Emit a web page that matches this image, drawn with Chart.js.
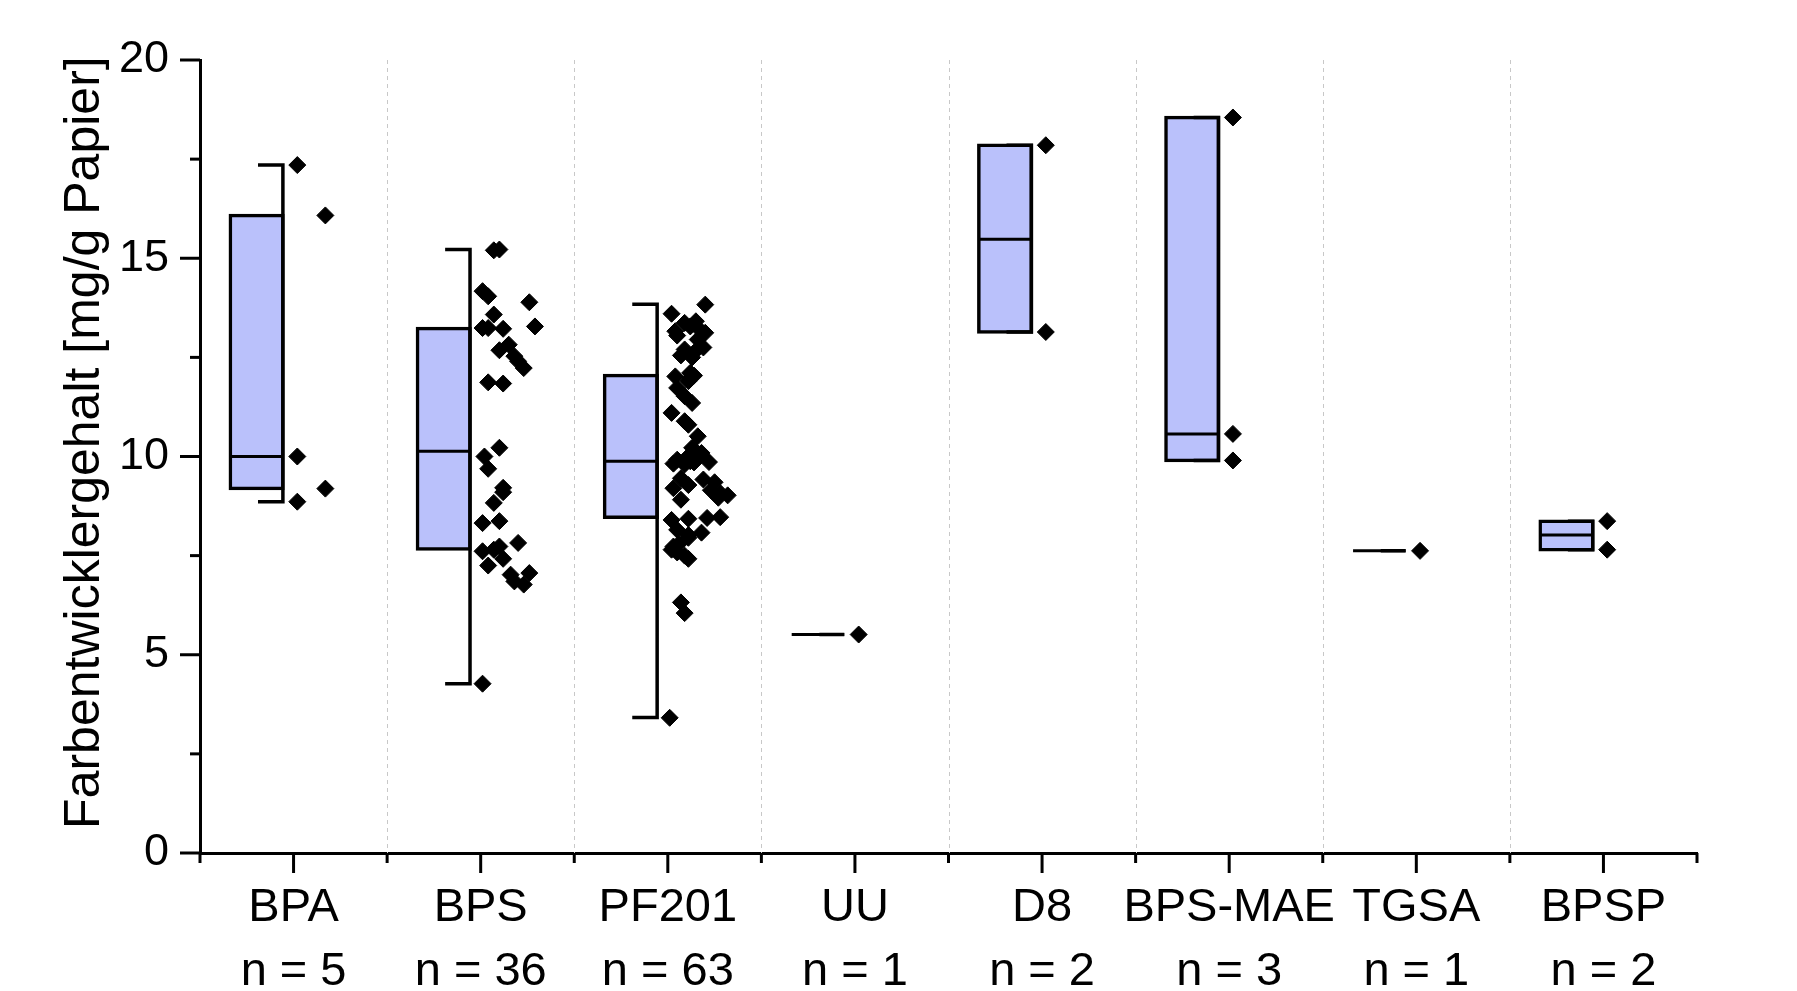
<!DOCTYPE html>
<html><head><meta charset="utf-8">
<script src="https://cdn.jsdelivr.net/npm/chart.js@4.4.1/dist/chart.umd.min.js"></script>
<style>html,body{margin:0;padding:0;background:#fff;} #wrap{width:1797px;height:991px;}</style>
</head><body><div id="wrap"><canvas id="c" width="1797" height="991"></canvas></div>
<script>
// ---------- data ----------
const categories = ['BPA','BPS','PF201','UU','D8','BPS-MAE','TGSA','BPSP'];
const boxQ1       = [9.19, 7.67, 8.47, 5.51, 13.14,  9.90, 7.62, 7.65];
const boxMedian   = [10.00,10.13,9.88, 5.51, 15.48, 10.57, 7.62, 8.02];
const boxQ3       = [16.08,13.23,12.04,5.51, 17.85, 18.55, 7.62, 8.37];
const whiskerLow  = [8.86, 4.27, 3.42, 5.51, 13.14,  9.90, 7.62, 7.65];
const whiskerHigh = [17.35,15.22,13.84,5.51, 17.85, 18.55, 7.62, 8.37];

const pointsBPA = [17.35, 16.08, 10.00, 9.19, 8.86];
const jitterBPA = [0.02, 0.17, 0.02, 0.17, 0.02];
const pointsBPS = [15.20,15.22,14.17,14.04,13.89,13.58,13.24,13.24,13.22,13.28,12.82,12.68,12.53,12.40,12.23,11.87,11.84,10.22,10.00,9.69,9.21,9.10,8.83,8.37,8.32,7.82,7.73,7.65,7.61,7.42,7.25,7.06,7.02,6.85,6.77,4.27];
const jitterBPS = [0.07,0.10,0.01,0.04,0.26,0.07,0.01,0.04,0.12,0.29,0.15,0.10,0.18,0.20,0.23,0.04,0.12,0.10,0.02,0.04,0.12,0.12,0.07,0.10,0.01,0.20,0.10,0.07,0.01,0.12,0.04,0.26,0.16,0.18,0.23,0.01];
const pointsPF201 = [13.83,13.60,13.41,13.37,13.28,13.20,13.16,13.12,13.05,12.95,12.75,12.70,12.62,12.55,12.50,12.11,12.04,12.02,11.98,11.90,11.73,11.52,11.35,11.10,10.89,10.80,10.51,10.22,10.09,9.96,9.92,9.88,9.86,9.85,9.82,9.80,9.45,9.42,9.35,9.28,9.20,9.15,9.08,9.02,8.96,8.91,8.47,8.45,8.43,8.40,8.15,8.08,8.02,7.95,7.80,7.73,7.65,7.58,7.50,7.42,6.32,6.05,3.41];
const jitterPF201 = [0.20,0.02,0.15,0.09,0.12,0.17,0.04,0.20,0.05,0.16,0.19,0.09,0.14,0.07,0.13,0.12,0.14,0.04,0.12,0.11,0.05,0.09,0.13,0.02,0.09,0.11,0.16,0.13,0.18,0.10,0.05,0.12,0.22,0.14,0.03,0.09,0.07,0.19,0.25,0.11,0.03,0.23,0.28,0.32,0.27,0.07,0.28,0.21,0.11,0.02,0.05,0.18,0.11,0.11,0.06,0.03,0.02,0.05,0.09,0.11,0.07,0.09,0.01];
const pointsUU = [5.51];            const jitterUU = [0.02];
const pointsD8 = [17.85, 13.14];    const jitterD8 = [0.02, 0.02];
const pointsBPSMAE = [18.55, 10.57, 9.90]; const jitterBPSMAE = [0.02, 0.02, 0.02];
const pointsTGSA = [7.62];          const jitterTGSA = [0.02];
const pointsBPSP = [8.37, 7.65];    const jitterBPSP = [0.02, 0.02];

const yMajorTicks = [0, 5, 10, 15, 20];
const yMinorTicks = [2.5, 7.5, 12.5, 17.5];

const groupPoints = [pointsBPA, pointsBPS, pointsPF201, pointsUU, pointsD8, pointsBPSMAE, pointsTGSA, pointsBPSP];
const groupJitter = [jitterBPA, jitterBPS, jitterPF201, jitterUU, jitterD8, jitterBPSMAE, jitterTGSA, jitterBPSP];

// ---------- geometry (in category-width units) ----------
const BOX_LEFT = -0.338, BOX_RIGHT = -0.057, WHISKER_X = -0.057, CAP_LEFT = -0.19;
const BOX_CENTER = (BOX_LEFT + BOX_RIGHT) / 2, BOX_FRACTION = BOX_RIGHT - BOX_LEFT;
const LW = 3.5;
const FONT = "'Liberation Sans', Arial, sans-serif";

const xLabels = categories.map((c, i) => [c, 'n = ' + groupPoints[i].length]);
const boxData = categories.map((c, i) => ({x: i + BOX_CENTER, y: [boxQ1[i], boxQ3[i]]}));
const medianData = [];
const whiskerData = [];
categories.forEach((c, i) => {
  medianData.push({x: i + BOX_LEFT, y: boxMedian[i]}, {x: i + BOX_RIGHT, y: boxMedian[i]}, {x: i + BOX_RIGHT, y: null});
  whiskerData.push({x: i + CAP_LEFT, y: whiskerHigh[i]}, {x: i + WHISKER_X, y: whiskerHigh[i]},
                   {x: i + WHISKER_X, y: whiskerLow[i]}, {x: i + CAP_LEFT, y: whiskerLow[i]}, {x: i + CAP_LEFT, y: null});
});
const pointData = [];
groupPoints.forEach((pts, i) => pts.forEach((v, k) => pointData.push({x: i + groupJitter[i][k], y: v})));

const axisDecor = {
  id: 'axisDecor',
  beforeDatasetsDraw(chart) {
    const {ctx, chartArea} = chart; const xj = chart.scales.xj;
    ctx.save();
    ctx.strokeStyle = '#c8c8c8'; ctx.lineWidth = 1; ctx.setLineDash([4, 4]);
    for (let i = 0; i < categories.length - 1; i++) {
      const px = Math.round(xj.getPixelForValue(i + 0.5)) + 0.5;
      ctx.beginPath(); ctx.moveTo(px, chartArea.top); ctx.lineTo(px, chartArea.bottom); ctx.stroke();
    }
    ctx.restore();
  },
  afterDraw(chart) {
    const {ctx, chartArea} = chart; const xj = chart.scales.xj; const y = chart.scales.y;
    ctx.save();
    ctx.strokeStyle = '#000'; ctx.lineWidth = 3; ctx.setLineDash([]);
    const line = (x1, y1, x2, y2) => { ctx.beginPath(); ctx.moveTo(x1, y1); ctx.lineTo(x2, y2); ctx.stroke(); };
    const ax = chartArea.left, ay = chartArea.bottom;
    yMajorTicks.forEach(v => { const p = y.getPixelForValue(v); line(ax, p, ax - 20, p); });
    yMinorTicks.forEach(v => { const p = y.getPixelForValue(v); line(ax, p, ax - 10, p); });
    categories.forEach((c, i) => { const p = xj.getPixelForValue(i); line(p, ay, p, ay + 20); });
    for (let i = 0; i <= categories.length; i++) { const p = xj.getPixelForValue(i - 0.5); line(p, ay, p, ay + 10); }
    ctx.restore();
  }
};

Chart.defaults.font.family = FONT;
Chart.defaults.color = '#000';

new Chart(document.getElementById('c'), {
  type: 'bar',
  data: {
    labels: xLabels,
    datasets: [
      {type: 'scatter', label: 'points', xAxisID: 'xj', yAxisID: 'y', data: pointData,
       pointStyle: 'rectRot', pointRadius: 8.5, pointHoverRadius: 8.5, backgroundColor: '#000', borderColor: '#000', borderWidth: 1, order: 0},
      {type: 'line', label: 'median', xAxisID: 'xj', yAxisID: 'y', data: medianData,
       borderColor: '#000', borderWidth: 3, pointRadius: 0, fill: false, spanGaps: false, tension: 0, borderCapStyle: 'butt', order: 1},
      {type: 'line', label: 'whiskers', xAxisID: 'xj', yAxisID: 'y', data: whiskerData,
       borderColor: '#000', borderWidth: LW, pointRadius: 0, fill: false, spanGaps: false, tension: 0,
       borderJoinStyle: 'miter', borderCapStyle: 'butt', order: 2},
      {type: 'bar', label: 'box', xAxisID: 'xj', yAxisID: 'y', data: boxData,
       backgroundColor: '#bac1fb', borderColor: '#000', borderWidth: LW, borderSkipped: false,
       inflateAmount: LW / 2,
       categoryPercentage: 1, barPercentage: BOX_FRACTION, order: 3}
    ]
  },
  options: {
    responsive: false, animation: false, events: [],
    layout: {padding: {left: 0, top: 60, right: 100, bottom: 0}},
    plugins: {legend: {display: false}, tooltip: {enabled: false}},
    scales: {
      x: {type: 'category', offset: true,
          grid: {display: false, drawTicks: false},
          border: {display: true, width: 3, color: '#000'},
          ticks: {font: {size: 47, lineHeight: 1.36}, color: '#000', padding: 23, maxRotation: 0, minRotation: 0, autoSkip: false},
          afterFit(s) { s.height = 138; }},
      xj: {type: 'linear', display: false, min: -0.5, max: categories.length - 0.5, offset: false,
           afterBuildTicks(s) { s.ticks = []; }},
      y: {type: 'linear', min: 0, max: 20,
          grid: {display: false, drawTicks: false},
          border: {display: true, width: 3, color: '#000'},
          ticks: {stepSize: 5, font: {size: 45}, color: '#000', padding: 31},
          title: {display: true, text: '  Farbentwicklergehalt [mg/g Papier]', color: '#000', font: {size: 50}, padding: {top: 55, bottom: 0}},
          afterFit(s) { s.width = 200; }}
    }
  },
  plugins: [axisDecor]
});
</script></body></html>
